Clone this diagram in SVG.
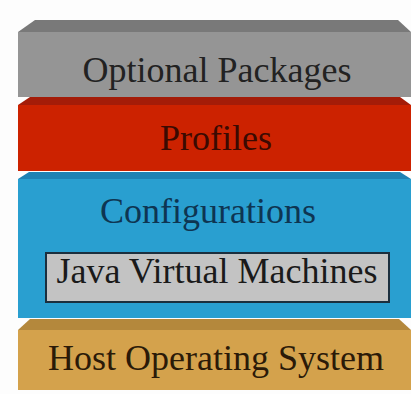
<svg xmlns="http://www.w3.org/2000/svg" width="411" height="394" viewBox="0 0 411 394">
  <style>
    text { font-family: 'Times New Roman', 'Liberation Serif', Tinos, 'DejaVu Serif', 'Noto Serif', serif; font-size: 36px; text-anchor: middle; }
  </style>
  <rect x="0" y="0" width="411" height="394" fill="#fdfdfd"/>

  <!-- Optional Packages layer -->
  <g id="optional-packages">
    <polygon points="35,20 398,20 411,32 18,32" fill="#797979"/>
    <rect x="18" y="32" width="393" height="65" fill="#959595"/>
    <text x="217" y="82" fill="#222222">Optional Packages</text>
  </g>

  <!-- Profiles layer -->
  <g id="profiles">
    <polygon points="30,97 400,97 411,105 18,105" fill="#a41c08"/>
    <rect x="18" y="105" width="393" height="66" fill="#cc2200"/>
    <text x="216" y="150" fill="#3a0a02">Profiles</text>
  </g>

  <!-- Configurations layer with the embedded JVM box -->
  <g id="configurations">
    <polygon points="29,172 400,172 411,179 18,179" fill="#1e82b4"/>
    <rect x="18" y="179" width="393" height="139" fill="#299fd0"/>
    <text x="208" y="223" fill="#0e3552">Configurations</text>
  </g>

  <g id="java-virtual-machines">
    <rect x="46" y="253" width="343" height="49" fill="#c3c3c3" stroke="#1b2f3e" stroke-width="2"/>
    <text x="217" y="283" fill="#1a1a1a">Java Virtual Machines</text>
  </g>

  <!-- Host Operating System layer -->
  <g id="host-operating-system">
    <polygon points="30,319 399,319 411,330 18,330" fill="#b4883c"/>
    <rect x="18" y="330" width="393" height="60" fill="#d4a24c"/>
    <text x="216" y="370" fill="#2b1a08">Host Operating System</text>
  </g>

  <!-- no connectors: stacked layers only -->
  <g id="connectors"/>
</svg>
